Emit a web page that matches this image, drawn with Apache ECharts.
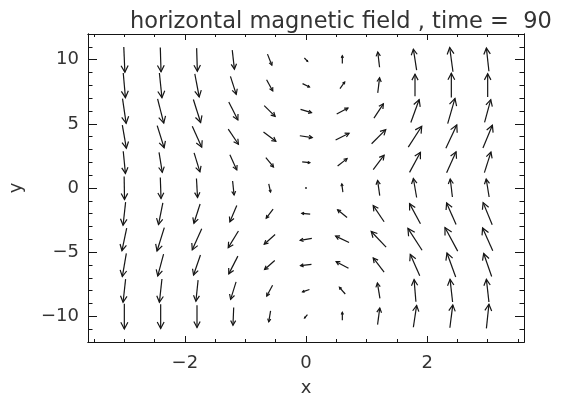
<!DOCTYPE html>
<html>
<head>
<meta charset="utf-8">
<script src="https://cdn.jsdelivr.net/npm/echarts@6/dist/echarts.min.js"></script>
<style>
  html, body { margin: 0; background: #fff; }
  #chart { width: 564px; height: 408px; }
</style>
</head>
<body>
<div id="chart"></div>
<script>
// grid of the vector field
const xs = [-3, -2.4, -1.8, -1.2, -0.6, 0, 0.6, 1.2, 1.8, 2.4, 3];
const ys = [10, 8, 6, 4, 2, 0, -2, -4, -6, -8, -10];

// field components, one row per ys value (top to bottom), one entry per xs value
const bx = [
  [ 0.03,  0.02,  0.02,  0.06,  0.12,  0.09,  0.00, -0.05, -0.09, -0.09, -0.07],
  [ 0.06,  0.07,  0.12,  0.16,  0.17,  0.19,  0.13,  0.05,  0.00,  0.00,  0.00],
  [ 0.10,  0.17,  0.20,  0.25,  0.30,  0.30,  0.31,  0.26,  0.23,  0.20,  0.17],
  [ 0.11,  0.19,  0.26,  0.28,  0.34,  0.34,  0.37,  0.39,  0.37,  0.30,  0.26],
  [ 0.06,  0.09,  0.16,  0.19,  0.21,  0.21,  0.26,  0.30,  0.30,  0.26,  0.18],
  [ 0.01,  0.02,  0.03,  0.04,  0.05,  0.00, -0.03, -0.06, -0.09, -0.06, -0.08],
  [-0.07, -0.12, -0.17, -0.19, -0.19, -0.23, -0.26, -0.30, -0.30, -0.26, -0.25],
  [-0.13, -0.20, -0.26, -0.28, -0.30, -0.32, -0.37, -0.41, -0.39, -0.35, -0.28],
  [-0.11, -0.16, -0.19, -0.25, -0.28, -0.30, -0.34, -0.30, -0.26, -0.24, -0.22],
  [-0.07, -0.07, -0.06, -0.15, -0.16, -0.19, -0.16, -0.07, -0.05, -0.07, -0.07],
  [ 0.00,  0.00,  0.00, -0.02, -0.05, -0.08,  0.00,  0.06,  0.09,  0.08,  0.07]
];
const by = [
  [-0.98, -0.94, -0.90, -0.74, -0.43, -0.13,  0.30,  0.59,  0.82,  0.94,  0.90],
  [-0.96, -0.96, -0.90, -0.70, -0.44, -0.13,  0.26,  0.59,  0.86,  0.94,  0.90],
  [-0.96, -0.94, -0.90, -0.70, -0.42, -0.13,  0.23,  0.56,  0.89,  0.98,  0.88],
  [-0.90, -0.86, -0.82, -0.59, -0.36, -0.07,  0.26,  0.55,  0.81,  0.91,  0.89],
  [-0.86, -0.78, -0.74, -0.59, -0.36, -0.03,  0.29,  0.56,  0.78,  0.82,  0.80],
  [-0.90, -0.82, -0.74, -0.55, -0.32,  0.00,  0.32,  0.59,  0.74,  0.70,  0.70],
  [-0.90, -0.85, -0.75, -0.63, -0.35,  0.03,  0.30,  0.63,  0.78,  0.84,  0.86],
  [-0.88, -0.91, -0.82, -0.65, -0.38, -0.08,  0.25,  0.61,  0.85,  0.92,  0.89],
  [-0.90, -0.85, -0.78, -0.69, -0.35, -0.05,  0.26,  0.55,  0.83,  0.93,  0.90],
  [-0.90, -0.91, -0.82, -0.68, -0.42, -0.09,  0.26,  0.60,  0.86,  0.88,  0.88],
  [-0.98, -0.95, -0.87, -0.69, -0.43, -0.13,  0.31,  0.65,  0.85,  0.89,  0.94]
];

// axis ticks
const xMajor = [-2, 0, 2];
const xMinor = [-3.5, -3, -2.5, -1.5, -1, -0.5, 0.5, 1, 1.5, 2.5, 3, 3.5];
const yMajor = [-10, -5, 0, 5, 10];
const yMinor = [-12, -11, -9, -8, -7, -6, -4, -3, -2, -1, 1, 2, 3, 4, 6, 7, 8, 9, 11, 12];

const data = [];
ys.forEach((y, j) => {
  xs.forEach((x, i) => {
    data.push([x, y, bx[j][i], by[j][i]]);
  });
});

const ink = '#151515';
const textColor = '#333';
const font = 'DejaVu Sans';
const minus = v => String(v).replace('-', '\u2212');

function renderArrow (params, api) {
  const c = api.coord([api.value(0), api.value(1)]);
  const cell = api.size([0.6, 2]);
  const hx = api.value(2) * cell[0] / 2;
  const hy = -api.value(3) * cell[1] / 2;
  const x0 = c[0] - hx, y0 = c[1] - hy;
  const x1 = c[0] + hx, y1 = c[1] + hy;
  const len = Math.hypot(x1 - x0, y1 - y0);
  if (len < 1) {
    return { type: 'circle', shape: { cx: c[0], cy: c[1], r: 0.9 }, style: { fill: ink } };
  }
  const ux = (x1 - x0) / len, uy = (y1 - y0) / len;
  const h = 0.3 * len;
  const ca = Math.cos(28 * Math.PI / 180), sa = Math.sin(28 * Math.PI / 180);
  const p1 = [x1 - h * (ux * ca - uy * sa), y1 - h * (uy * ca + ux * sa)];
  const p2 = [x1 - h * (ux * ca + uy * sa), y1 - h * (uy * ca - ux * sa)];
  return {
    type: 'group',
    children: [
      { type: 'line', shape: { x1: x0, y1: y0, x2: x1, y2: y1 }, style: { stroke: ink, lineWidth: 1.2 } },
      { type: 'polyline', shape: { points: [p1, [x1, y1], p2] }, style: { stroke: ink, lineWidth: 1.2, fill: null } }
    ]
  };
}

const lineStyle = { color: ink, width: 1 };

function xAx (position, ticks, len, withLabels) {
  return {
    type: 'value', position, min: -3.6, max: 3.6,
    axisLine: { show: true, onZero: false, lineStyle },
    axisTick: { show: true, inside: true, length: len, customValues: ticks, lineStyle },
    axisLabel: withLabels
      ? { show: true, customValues: xMajor, formatter: minus, fontSize: 18, color: textColor, fontFamily: font, margin: 12 }
      : { show: false },
    splitLine: { show: false },
    name: withLabels ? 'x' : '',
    nameLocation: 'middle', nameGap: 37,
    nameTextStyle: { fontSize: 18, color: textColor, fontFamily: font }
  };
}

function yAx (position, ticks, len, withLabels) {
  return {
    type: 'value', position, min: -12, max: 12,
    axisLine: { show: true, onZero: false, lineStyle },
    axisTick: { show: true, inside: true, length: len, customValues: ticks, lineStyle },
    axisLabel: withLabels
      ? { show: true, customValues: yMajor, formatter: minus, fontSize: 18, color: textColor, fontFamily: font, margin: 9 }
      : { show: false },
    splitLine: { show: false },
    name: withLabels ? 'y' : '',
    nameLocation: 'middle', nameGap: 63, nameRotate: 90,
    nameTextStyle: { fontSize: 18, color: textColor, fontFamily: font }
  };
}

const chart = echarts.init(document.getElementById('chart'));
chart.setOption({
  animation: false,
  backgroundColor: '#fff',
  title: {
    text: 'horizontal magnetic field , time =  90',
    left: 125, top: 6,
    textStyle: { fontSize: 22.5, fontWeight: 'normal', color: textColor, fontFamily: font }
  },
  grid: { left: 88, top: 34, width: 436, height: 308, outerBoundsMode: 'none' },
  xAxis: [
    xAx('bottom', xMajor, 6, true),
    xAx('bottom', xMinor, 3, false),
    xAx('top', xMajor, 6, false),
    xAx('top', xMinor, 3, false)
  ],
  yAxis: [
    yAx('left', yMajor, 9, true),
    yAx('left', yMinor, 4.5, false),
    yAx('right', yMajor, 9, false),
    yAx('right', yMinor, 4.5, false)
  ],
  series: [{
    type: 'custom',
    xAxisIndex: 0,
    yAxisIndex: 0,
    renderItem: renderArrow,
    data: data,
    clip: false
  }]
});
</script>
</body>
</html>
